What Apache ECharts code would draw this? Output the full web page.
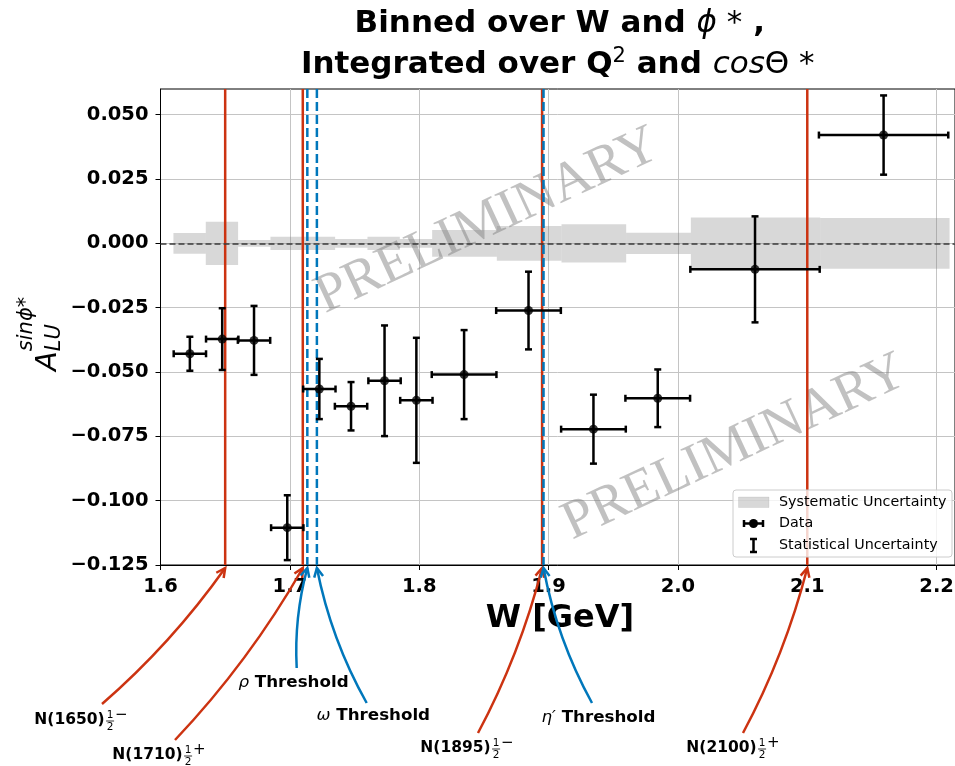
<!DOCTYPE html>
<html>
<head>
<meta charset="utf-8">
<script src="https://cdn.jsdelivr.net/npm/echarts@6/dist/echarts.min.js"></script>
<style>
html,body{margin:0;padding:0;background:#ffffff;}
#chart{width:955px;height:766px;}
</style>
</head>
<body>
<div id="chart"></div>
<script>
// ---------------- data ----------------
const W        = [1.6227, 1.6477, 1.6723, 1.6980, 1.7228, 1.7473, 1.7732, 1.7978, 1.8347, 1.8845, 1.9347, 1.9844, 2.0596, 2.1590];
const asym     = [-0.0429, -0.0372, -0.0377, -0.1105, -0.0566, -0.0633, -0.0534, -0.0610, -0.0510, -0.0261, -0.0722, -0.0602, -0.0101, 0.0421];
const wErr     = [0.0125, 0.0125, 0.0125, 0.0125, 0.0125, 0.0125, 0.0125, 0.0125, 0.025, 0.025, 0.025, 0.025, 0.05, 0.05];
const statErr  = [0.0066, 0.0120, 0.0134, 0.0126, 0.0117, 0.0094, 0.0215, 0.0243, 0.0173, 0.0151, 0.0134, 0.0112, 0.0206, 0.0154];
const sysEdges = [1.61, 1.635, 1.66, 1.685, 1.71, 1.735, 1.76, 1.785, 1.81, 1.86, 1.91, 1.96, 2.01, 2.11, 2.21];
const sysErr   = [0.0040, 0.0084, 0.0013, 0.0026, 0.0026, 0.0017, 0.0026, 0.0017, 0.0052, 0.0068, 0.0074, 0.0041, 0.0101, 0.0099];

const xTickValues = [1.6, 1.7, 1.8, 1.9, 2.0, 2.1, 2.2];
const yTickValues = [-0.125, -0.1, -0.075, -0.05, -0.025, 0, 0.025, 0.05];

const resonanceW      = [1.65, 1.71, 1.895, 2.1];
const resonanceNames  = ['N(1650)', 'N(1710)', 'N(1895)', 'N(2100)'];
const resonanceParity = ['\u2212', '+', '\u2212', '+'];
const thresholdW       = [1.7135, 1.7209, 1.8961];
const thresholdSymbols = ['\u03C1', '\u03C9', '\u03B7\u2032'];
const watermarkPos = [[1.8530, 0.0085], [2.0440, -0.0795]];

// ---------------- layout / style ----------------
const X_MIN = 1.6, X_MAX = 2.2142, Y_MIN = -0.125, Y_MAX = 0.06;
const RED = '#cc3311', BLUE = '#0077bb';
const FONT = '"DejaVu Sans"';
const resonanceLabelPos = [[81, 720], [159, 755], [467, 748], [733, 748]];
const resonanceTailPos  = [[102, 704], [175, 740], [478, 733], [743, 733]];
const thresholdLabelPos = [[293.5, 683], [373.3, 716], [598.5, 718]];
const thresholdTailPos  = [[296.7, 668], [366.7, 703], [592, 703]];

const chart = echarts.init(document.getElementById('chart'), null, {renderer: 'canvas'});

function fmtX(v) {
  const k = v / 0.1;
  if (Math.abs(k - Math.round(k)) > 1e-6) return '';
  return v.toFixed(1);
}
function fmtY(v) {
  const k = v / 0.025;
  if (Math.abs(k - Math.round(k)) > 1e-6) return '';
  return (v < -1e-9 ? '\u2212' : '') + Math.abs(v).toFixed(3);
}

const option = {
  animation: false,
  backgroundColor: '#ffffff',
  textStyle: {fontFamily: 'DejaVu Sans'},
  grid: {left: 160.5, top: 89, right: 0, height: 476, outerBoundsMode: 'none', show: true, borderColor: '#000', borderWidth: 1, backgroundColor: 'transparent'},
  xAxis: {
    type: 'value', min: X_MIN, max: X_MAX, interval: 0.1,
    axisLine: {show: true, onZero: false, lineStyle: {color: '#000', width: 1}},
    axisTick: {show: true, length: 5, lineStyle: {color: '#000', width: 1}, customValues: xTickValues},
    axisLabel: {formatter: fmtX, customValues: xTickValues, fontFamily: 'DejaVu Sans', fontWeight: 'bold', fontSize: 19.5, color: '#000', margin: 12},
    splitLine: {show: true, lineStyle: {color: '#c4c4c4', width: 1}}
  },
  yAxis: {
    type: 'value', min: Y_MIN, max: Y_MAX, interval: 0.025,
    axisLine: {show: true, onZero: false, lineStyle: {color: '#000', width: 1}},
    axisTick: {show: true, length: 5, lineStyle: {color: '#000', width: 1}, customValues: yTickValues},
    axisLabel: {formatter: fmtY, customValues: yTickValues, fontFamily: 'DejaVu Sans', fontWeight: 'bold', fontSize: 19.5, color: '#000', margin: 12},
    splitLine: {show: true, lineStyle: {color: '#c4c4c4', width: 1}}
  },
  series: [
    {
      name: 'Systematic Uncertainty', type: 'custom', z: 2,
      data: sysErr.map((s, i) => [sysEdges[i], sysEdges[i + 1], s]),
      encode: {x: [0, 1], y: 2},
      renderItem: (params, api) => {
        const p1 = api.coord([api.value(0), api.value(2)]);
        const p2 = api.coord([api.value(1), -api.value(2)]);
        return {type: 'rect', shape: {x: p1[0], y: p1[1], width: p2[0] - p1[0], height: p2[1] - p1[1]},
                style: {fill: 'rgba(128,128,128,0.31)'}};
      },
      markLine: {
        silent: true, symbol: ['none', 'none'], label: {show: false},
        lineStyle: {color: '#3a3a3a', type: [6, 3], width: 1.6},
        data: [{yAxis: 0}]
      }
    },
    {
      name: 'resonances', type: 'custom', z: 4,
      data: resonanceW.map(v => [v]),
      encode: {x: 0},
      renderItem: (params, api) => {
        const a = api.coord([api.value(0), Y_MAX]);
        const b = api.coord([api.value(0), Y_MIN]);
        return {type: 'line', shape: {x1: a[0], y1: a[1], x2: b[0], y2: b[1]}, style: {stroke: RED, lineWidth: 2.5}};
      }
    },
    {
      name: 'thresholds', type: 'custom', z: 5,
      data: thresholdW.map(v => [v]),
      encode: {x: 0},
      renderItem: (params, api) => {
        const a = api.coord([api.value(0), Y_MAX]);
        const b = api.coord([api.value(0), Y_MIN]);
        return {type: 'line', shape: {x1: a[0], y1: a[1], x2: b[0], y2: b[1]}, style: {stroke: BLUE, lineWidth: 2.5, lineDash: [9, 4]}};
      }
    },
    {
      name: 'Statistical Uncertainty', type: 'custom', z: 6,
      data: W.map((w, i) => [w, asym[i], wErr[i], statErr[i]]),
      encode: {x: 0, y: 1},
      renderItem: (params, api) => {
        const x = api.value(0), y = api.value(1), xe = api.value(2), ye = api.value(3);
        const l = api.coord([x - xe, y]), r = api.coord([x + xe, y]);
        const t = api.coord([x, y + ye]), b = api.coord([x, y - ye]);
        const cap = 3.5;
        const st = {stroke: '#000', lineWidth: 2.5};
        return {type: 'group', children: [
          {type: 'line', shape: {x1: l[0], y1: l[1], x2: r[0], y2: r[1]}, style: st},
          {type: 'line', shape: {x1: t[0], y1: t[1], x2: b[0], y2: b[1]}, style: st},
          {type: 'line', shape: {x1: l[0], y1: l[1] - cap, x2: l[0], y2: l[1] + cap}, style: st},
          {type: 'line', shape: {x1: r[0], y1: r[1] - cap, x2: r[0], y2: r[1] + cap}, style: st},
          {type: 'line', shape: {x1: t[0] - cap, y1: t[1], x2: t[0] + cap, y2: t[1]}, style: st},
          {type: 'line', shape: {x1: b[0] - cap, y1: b[1], x2: b[0] + cap, y2: b[1]}, style: st}
        ]};
      }
    },
    {
      name: 'Data', type: 'scatter', z: 7,
      symbol: 'circle', symbolSize: 9,
      itemStyle: {color: '#000'},
      data: W.map((w, i) => [w, asym[i]])
    }
  ]
};
chart.setOption(option);

// ---------------- annotations & decorations ----------------
const mctx = document.createElement('canvas').getContext('2d');
function tw(font, s) { mctx.font = font; return mctx.measureText(s).width; }
const px = (x, y) => chart.convertToPixel({gridIndex: 0}, [x, y]);
const axisBottom = px(X_MIN, Y_MIN)[1];
const axisMidX = (px(X_MIN, 0)[0] + px(X_MAX, 0)[0]) / 2;

const g = [];

// title
const TS = 31;
g.push({type: 'text', x: axisMidX + 2, y: 24, z: 20, style: {
  text: '{b|Binned over W and }{m|\u03D5}{r| *}{b| ,}',
  align: 'center', verticalAlign: 'middle', fill: '#000',
  rich: {
    b: {fontFamily: 'DejaVu Sans', fontWeight: 'bold', fontSize: TS, lineHeight: 38},
    m: {fontFamily: 'DejaVu Sans', fontStyle: 'italic', fontSize: TS, lineHeight: 38},
    r: {fontFamily: 'DejaVu Sans', fontSize: TS, lineHeight: 38}
  }}});
g.push({type: 'text', x: axisMidX, y: 65, z: 20, style: {
  text: '{b|Integrated over Q}{s|2}{b| and }{m|cos}{r|\u0398 *}',
  align: 'center', verticalAlign: 'middle', fill: '#000',
  rich: {
    b: {fontFamily: 'DejaVu Sans', fontWeight: 'bold', fontSize: TS, lineHeight: 38},
    s: {fontFamily: 'DejaVu Sans', fontSize: 21, lineHeight: 26, verticalAlign: 'top'},
    m: {fontFamily: 'DejaVu Sans', fontStyle: 'italic', fontSize: TS, lineHeight: 38},
    r: {fontFamily: 'DejaVu Sans', fontSize: TS, lineHeight: 38}
  }}});

// y-axis label  A_LU^{sin phi*}
const aFont = 'italic 29px ' + FONT, smallFont = 'italic 21px ' + FONT;
const wA = tw(aFont, 'A');
g.push({type: 'text', x: 48, y: 371, rotation: Math.PI / 2, z: 20, style: {text: 'A', font: aFont, fill: '#000', align: 'left', verticalAlign: 'middle'}});
g.push({type: 'text', x: 27, y: 371 - wA, rotation: Math.PI / 2, z: 20, style: {text: 'sin\u03D5*', font: smallFont, fill: '#000', align: 'left', verticalAlign: 'middle'}});
g.push({type: 'text', x: 55, y: 371 - wA, rotation: Math.PI / 2, z: 20, style: {text: 'LU', font: smallFont, fill: '#000', align: 'left', verticalAlign: 'middle'}});

// x-axis label
g.push({type: 'text', x: 560, y: 619, z: 20, style: {text: 'W [GeV]', font: 'bold 32px ' + FONT, fill: '#000', align: 'center', verticalAlign: 'middle'}});

// watermarks
watermarkPos.forEach(p => {
  const c = px(p[0], p[1]);
  g.push({type: 'text', x: c[0], y: c[1], rotation: 25 * Math.PI / 180, z: 3, silent: true,
    style: {text: 'PRELIMINARY', font: '55px "Liberation Serif"', fill: 'rgba(125,125,125,0.48)', align: 'center', verticalAlign: 'middle'}});
});

// legend
const LX = 733, LY = 490, LW = 219, LH = 67;
g.push({type: 'rect', z: 30, shape: {x: LX, y: LY, width: LW, height: LH, r: 3}, style: {fill: 'rgba(255,255,255,0.8)', stroke: '#cccccc', lineWidth: 1}});
g.push({type: 'rect', z: 31, shape: {x: 738.5, y: 497, width: 30.5, height: 10.5}, style: {fill: 'rgba(128,128,128,0.31)', stroke: 'rgba(128,128,128,0.31)', lineWidth: 0.5}});
const legFont = '14.3px ' + FONT;
[['Systematic Uncertainty', 502], ['Data', 523.5], ['Statistical Uncertainty', 545]].forEach(e => {
  g.push({type: 'text', x: 779, y: e[1], z: 31, style: {text: e[0], font: legFont, fill: '#000', align: 'left', verticalAlign: 'middle'}});
});
const lst = {stroke: '#000', lineWidth: 2.5};
g.push({type: 'line', z: 31, shape: {x1: 744, y1: 523.5, x2: 763, y2: 523.5}, style: lst});
g.push({type: 'line', z: 31, shape: {x1: 744, y1: 520, x2: 744, y2: 527}, style: lst});
g.push({type: 'line', z: 31, shape: {x1: 763, y1: 520, x2: 763, y2: 527}, style: lst});
g.push({type: 'circle', z: 32, shape: {cx: 753.5, cy: 523.5, r: 4.5}, style: {fill: '#000'}});
g.push({type: 'line', z: 31, shape: {x1: 753.5, y1: 539, x2: 753.5, y2: 552}, style: lst});
g.push({type: 'line', z: 31, shape: {x1: 750, y1: 539, x2: 757, y2: 539}, style: lst});
g.push({type: 'line', z: 31, shape: {x1: 750, y1: 552, x2: 757, y2: 552}, style: lst});

// arrows
function arrow(tail, head, rad, color) {
  const mx = (tail[0] + head[0]) / 2, my = (tail[1] + head[1]) / 2;
  const dx = head[0] - tail[0], dys = head[1] - tail[1];
  const cp = [mx - rad * dys, my + rad * dx];
  g.push({type: 'bezierCurve', z: 20, shape: {x1: tail[0], y1: tail[1], x2: head[0], y2: head[1], cpx1: cp[0], cpy1: cp[1]},
    style: {stroke: color, lineWidth: 2.5, fill: null}});
  const ang = Math.atan2(head[1] - cp[1], head[0] - cp[0]);
  const hl = 9, hw = 4.5;
  const bx = head[0] - hl * Math.cos(ang), by = head[1] - hl * Math.sin(ang);
  g.push({type: 'polyline', z: 20, shape: {points: [
      [bx + hw * Math.sin(ang), by - hw * Math.cos(ang)], [head[0], head[1]], [bx - hw * Math.sin(ang), by + hw * Math.cos(ang)]]},
    style: {stroke: color, lineWidth: 2.5, fill: null}});
}

const labFont = 'bold 15.5px ' + FONT;
resonanceW.forEach((w, i) => {
  const head = [px(w, Y_MIN)[0], axisBottom + 3];
  arrow(resonanceTailPos[i], head, 0.06, RED);
  const [cx, cy] = resonanceLabelPos[i];
  const w1 = tw(labFont, resonanceNames[i]);
  const fracW = 8;
  const supFont = '15px ' + FONT;
  const supW = tw(supFont, resonanceParity[i]);
  const total = w1 + 1.5 + fracW + 1 + supW;
  const x0 = cx - total / 2;
  const fx = x0 + w1 + 1.5;
  g.push({type: 'text', x: x0, y: cy, z: 20, style: {text: resonanceNames[i], font: labFont, fill: '#000', align: 'left', verticalAlign: 'middle'}});
  g.push({type: 'text', x: fx + fracW / 2, y: cy - 5, z: 20, style: {text: '1', font: '10.5px ' + FONT, fill: '#000', align: 'center', verticalAlign: 'middle'}});
  g.push({type: 'line', z: 20, shape: {x1: fx, y1: cy + 1, x2: fx + fracW, y2: cy + 1}, style: {stroke: '#000', lineWidth: 0.8}});
  g.push({type: 'text', x: fx + fracW / 2, y: cy + 7.5, z: 20, style: {text: '2', font: '10.5px ' + FONT, fill: '#000', align: 'center', verticalAlign: 'middle'}});
  g.push({type: 'text', x: fx + fracW + 1, y: cy - 5, z: 20, style: {text: resonanceParity[i], font: supFont, fill: '#000', align: 'left', verticalAlign: 'middle'}});
});

thresholdW.forEach((w, i) => {
  const head = [px(w, Y_MIN)[0], axisBottom + 3];
  arrow(thresholdTailPos[i], head, -0.08, BLUE);
  const [cx, cy] = thresholdLabelPos[i];
  g.push({type: 'text', x: cx, y: cy, z: 20, style: {
    text: '{g|' + thresholdSymbols[i] + '}{b| Threshold}', align: 'center', verticalAlign: 'middle', fill: '#000',
    rich: {
      g: {fontFamily: 'DejaVu Sans', fontStyle: 'italic', fontSize: 16.7},
      b: {fontFamily: 'DejaVu Sans', fontWeight: 'bold', fontSize: 16.7}
    }}});
});

chart.setOption({graphic: {elements: g}});
</script>
</body>
</html>
